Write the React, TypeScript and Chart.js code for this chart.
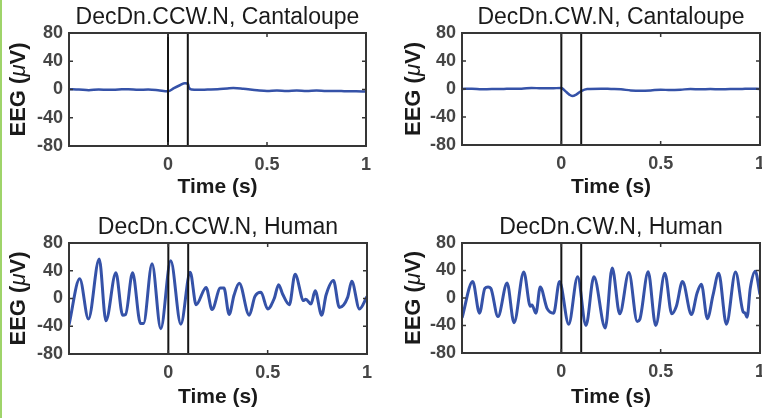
import React, { useEffect, useRef } from "react";
import { Chart, registerables } from "chart.js";
Chart.register(...registerables);

const FONT = "'Liberation Sans', Arial, Helvetica, sans-serif";

const xTicks = [0, 0.5, 1];
const yTicks = [-80, -40, 0, 40, 80];
const markerTimes = [0, 0.1];

const titles = [
  "DecDn.CCW.N, Cantaloupe",
  "DecDn.CW.N, Cantaloupe",
  "DecDn.CCW.N, Human",
  "DecDn.CW.N, Human",
];

// DecDn.CCW.N, Cantaloupe
const ccwCantT = [-0.5, -0.45, -0.4, -0.35, -0.3, -0.25, -0.2, -0.15, -0.1, -0.05, 0.0, 0.03, 0.06, 0.085, 0.095, 0.1, 0.105, 0.12, 0.15, 0.2, 0.25, 0.3, 0.33, 0.38, 0.45, 0.5, 0.55, 0.6, 0.65, 0.7, 0.75, 0.8, 0.85, 0.9, 0.95, 1.0];
const ccwCantV = [0.5, 0, -1, 0, -0.5, 0, 0.5, -0.5, 0, -1, -2.5, 2, 6, 9, 8.5, 9, 3, 0, -0.5, 0, 0.5, 1.5, 2, 1, -1, -2, -1.5, -2, -1.5, -2, -1.5, -2, -2, -2.5, -2.5, -3];

// DecDn.CW.N, Cantaloupe
const cwCantT = [-0.5, -0.45, -0.4, -0.35, -0.3, -0.25, -0.2, -0.15, -0.1, -0.05, 0.0, 0.02, 0.04, 0.055, 0.075, 0.1, 0.13, 0.2, 0.25, 0.3, 0.35, 0.4, 0.45, 0.5, 0.55, 0.6, 0.65, 0.7, 0.75, 0.8, 0.85, 0.9, 0.95, 1.0];
const cwCantV = [0, 0.5, -0.5, 0, 0, 0.5, 0.5, 1.5, 1, 1, 1.5, -3, -8, -10, -8, -3, 0, 0.5, 0, -0.5, -2, -2.5, -2, -1, -1.5, -1, 0, -0.5, 0, -0.5, 0, 0, 0.5, 0];

// DecDn.CCW.N, Human
const ccwHumT = [-0.5, -0.446, -0.402, -0.348, -0.314, -0.264, -0.23, -0.215, -0.18, -0.14, -0.125, -0.082, -0.038, 0.012, 0.063, 0.11, 0.14, 0.19, 0.22, 0.262, 0.28, 0.306, 0.331, 0.357, 0.407, 0.436, 0.466, 0.5, 0.533, 0.555, 0.575, 0.609, 0.638, 0.681, 0.692, 0.718, 0.739, 0.772, 0.794, 0.831, 0.861, 0.903, 0.923, 0.962, 1.0];
const ccwHumV = [-38, 28.5, -29.5, 57, -32, 37, -24, -23, 37, -36, -36, 50, -43.5, 54.5, -37, 38, -9, 16, -16, 15, 15, -23, 5, 22, -24, 3, 9, -15, 0, 20, 6.5, -9, 35, -3, -1, -8, 11, -24, 5, 26, -13, 2, 25, -15, 3];

// DecDn.CW.N, Human
const cwHumT = [-0.5, -0.446, -0.412, -0.385, -0.369, -0.355, -0.319, -0.273, -0.238, -0.189, -0.156, -0.148, -0.128, -0.106, -0.072, -0.039, -0.009, 0.037, 0.082, 0.124, 0.164, 0.221, 0.256, 0.294, 0.34, 0.382, 0.395, 0.437, 0.475, 0.521, 0.556, 0.579, 0.61, 0.655, 0.683, 0.705, 0.735, 0.764, 0.792, 0.831, 0.877, 0.915, 0.925, 0.935, 0.951, 0.976, 1.0];
const cwHumV = [-29, 24, -22, 14, 16, 14, -27, 22, -36, 38, -12, -10, -22, 16, -15, -22, 24, -38, 31, -40, 31, -43.5, 43.5, -23, 37, -34, -31, 38, -40, 36, -23, -12, 24, -24, 7, 20, -30, 5, 36, -38, 38, -20, -22, -28, 14, 39, 5];

type Area = { L: number; R: number; T: number; B: number };

const CW = 381;
const CH = 209;
const TITLE_SIZE = 23;

function framePlugin(yLabelX: number) {
  return {
    id: "frame",
    afterDatasetsDraw(chart: any) {
      const { ctx, chartArea, scales } = chart;
      const { left, right, top, bottom } = chartArea;
      const x = scales.x;
      const y = scales.y;
      ctx.save();
      ctx.strokeStyle = "#363636";
      ctx.lineWidth = 2;
      ctx.strokeRect(left, top, right - left, bottom - top);
      ctx.lineWidth = 1.5;
      ctx.beginPath();
      xTicks.forEach((v) => {
        const px = x.getPixelForValue(v);
        ctx.moveTo(px, bottom);
        ctx.lineTo(px, bottom - 4);
        ctx.moveTo(px, top);
        ctx.lineTo(px, top + 4);
      });
      yTicks.forEach((v) => {
        const py = y.getPixelForValue(v);
        ctx.moveTo(left, py);
        ctx.lineTo(left + 4, py);
        ctx.moveTo(right, py);
        ctx.lineTo(right - 4, py);
      });
      ctx.stroke();

      // y-axis label with italic mu
      const parts = [
        { t: "EEG (", f: `bold 22px ${FONT}` },
        { t: "\u03bc", f: `italic 22px ${FONT}` },
        { t: "V)", f: `bold 22px ${FONT}` },
      ];
      let total = 0;
      const widths = parts.map((p) => {
        ctx.font = p.f;
        const w = ctx.measureText(p.t).width;
        total += w;
        return w;
      });
      ctx.translate(yLabelX, (top + bottom) / 2);
      ctx.rotate(-Math.PI / 2);
      ctx.fillStyle = "#1a1a1a";
      ctx.textBaseline = "middle";
      ctx.textAlign = "left";
      let cx = -total / 2;
      parts.forEach((p, i) => {
        ctx.font = p.f;
        ctx.fillText(p.t, cx, 0);
        cx += widths[i];
      });
      ctx.restore();
    },
  };
}

function Panel(props: {
  left: number;
  top: number;
  title: string;
  times: number[];
  values: number[];
  lineWidth: number;
  area: Area;
  yLabelX: number;
}) {
  const ref = useRef<HTMLCanvasElement>(null);
  useEffect(() => {
    const { L, R, T, B } = props.area;
    const tl = TITLE_SIZE * 1.2;
    const chart = new Chart(ref.current as HTMLCanvasElement, {
      type: "line",
      data: {
        datasets: [
          ...markerTimes.map((m) => ({
            data: [
              { x: m, y: -80 },
              { x: m, y: 80 },
            ],
            borderColor: "#151515",
            borderWidth: 2,
            pointRadius: 0,
            tension: 0,
          })),
          {
            data: props.times.map((t, i) => ({ x: t, y: props.values[i] })),
            borderColor: "#3552a8",
            borderWidth: props.lineWidth,
            pointRadius: 0,
            cubicInterpolationMode: "monotone",
          },
        ],
      } as any,
      options: {
        animation: false,
        responsive: false,
        maintainAspectRatio: false,
        events: [],
        layout: { padding: { left: 0, top: 0, right: CW - R, bottom: 0 } },
        plugins: {
          legend: { display: false },
          tooltip: { enabled: false },
          title: {
            display: true,
            text: props.title,
            fullSize: false,
            color: "#1a1a1a",
            font: { family: FONT, size: TITLE_SIZE, weight: "normal", lineHeight: 1.2 },
            padding: { top: 17.5 - tl / 2, bottom: T - (17.5 - tl / 2) - tl },
          },
        },
        scales: {
          x: {
            type: "linear",
            min: -0.5,
            max: 1,
            grid: { display: false, drawTicks: false },
            border: { display: false },
            afterBuildTicks: (s: any) => {
              s.ticks = xTicks.map((v) => ({ value: v }));
            },
            afterFit: (s: any) => {
              s.height = CH - B;
              s.paddingLeft = 0;
              s.paddingRight = 0;
            },
            ticks: {
              color: "#454545",
              font: { family: FONT, size: 18, weight: "bold" },
              padding: 8,
              maxRotation: 0,
              autoSkip: false,
              callback: (v: any) => String(v),
            },
            title: {
              display: true,
              text: "Time (s)",
              color: "#1a1a1a",
              font: { family: FONT, size: 21, weight: "bold" },
              padding: { top: 0, bottom: 9 },
            },
          },
          y: {
            type: "linear",
            min: -80,
            max: 80,
            grid: { display: false, drawTicks: false },
            border: { display: false },
            afterBuildTicks: (s: any) => {
              s.ticks = yTicks.map((v) => ({ value: v }));
            },
            afterFit: (s: any) => {
              s.width = L;
              s.paddingTop = 0;
              s.paddingBottom = 0;
            },
            ticks: {
              color: "#454545",
              font: { family: FONT, size: 18, weight: "bold" },
              padding: 6,
              autoSkip: false,
            },
          },
        },
      } as any,
      plugins: [framePlugin(props.yLabelX)],
    });
    return () => chart.destroy();
  }, []);
  return (
    <canvas
      ref={ref}
      width={CW}
      height={CH}
      style={{ position: "absolute", left: props.left, top: props.top, width: CW, height: CH }}
    />
  );
}

export default function App() {
  return (
    <div
      style={{
        position: "fixed",
        left: 0,
        top: 0,
        width: 762,
        height: 418,
        background: "#ffffff",
        overflow: "hidden",
      }}
    >
      <div style={{ position: "absolute", left: 0, top: 0, width: 2, height: 418, background: "#9fd46a" }} />
      <Panel left={0} top={0} title={titles[0]} times={ccwCantT} values={ccwCantV} lineWidth={2.5}
        area={{ L: 69, R: 366, T: 33, B: 146 }} yLabelX={19} />
      <Panel left={381} top={0} title={titles[1]} times={cwCantT} values={cwCantV} lineWidth={2.5}
        area={{ L: 81, R: 379, T: 33, B: 145 }} yLabelX={33} />
      <Panel left={0} top={210} title={titles[2]} times={ccwHumT} values={ccwHumV} lineWidth={3}
        area={{ L: 69, R: 367, T: 33, B: 144 }} yLabelX={19} />
      <Panel left={381} top={210} title={titles[3]} times={cwHumT} values={cwHumV} lineWidth={3}
        area={{ L: 81, R: 379, T: 33, B: 143 }} yLabelX={33} />
    </div>
  );
}
